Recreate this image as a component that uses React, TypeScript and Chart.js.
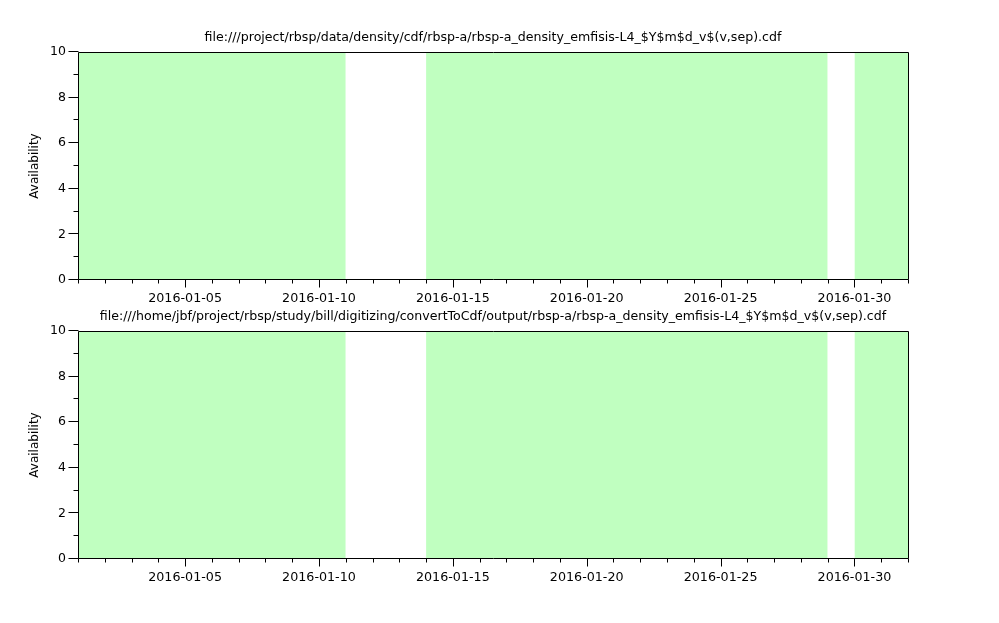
import React, { useEffect, useRef } from "react";
import { Chart, registerables } from "chart.js";
Chart.register(...registerables);

// ---- data ----
const panelTitles = [
  "file:///project/rbsp/data/density/cdf/rbsp-a/rbsp-a_density_emfisis-L4_$Y$m$d_v$(v,sep).cdf",
  "file:///home/jbf/project/rbsp/study/bill/digitizing/convertToCdf/output/rbsp-a/rbsp-a_density_emfisis-L4_$Y$m$d_v$(v,sep).cdf",
];
// days since 2016-01-01
const intervalStartDays = [0, 13, 29];
const intervalEndDays = [10, 28, 31];
const availabilityValue = 10;
const xMinDay = 0;
const xMaxDay = 31;
const majorTickDays = [4, 9, 14, 19, 24, 29];
const majorTickLabels = ["2016-01-05", "2016-01-10", "2016-01-15", "2016-01-20", "2016-01-25", "2016-01-30"];
const yMin = 0;
const yMax = 10;
const yTickLabels = ["0", "2", "4", "6", "8", "10"];
const yAxisTitle = "Availability";

const FONT = "'DejaVu Sans', sans-serif";
const GREEN = "rgb(192,255,192)";

const frameTicksPlugin = {
  id: "frameTicks",
  afterDraw(chart: any, _args: any, opts: any) {
    const { ctx, chartArea: a, scales } = chart;
    const x = scales.x;
    const y = scales.y;
    ctx.save();
    ctx.strokeStyle = "#000";
    ctx.lineWidth = 1;
    ctx.beginPath();
    const L = Math.round(a.left) + 0.5;
    const R = Math.round(a.right) + 0.5;
    const T = Math.round(a.top) + 0.5;
    const B = Math.round(a.bottom) - 0.5;
    ctx.rect(L, T, R - L, B - T);
    x.ticks.forEach((t: any) => {
      const px = Math.round(x.getPixelForValue(t.value)) + 0.5;
      const len = majorTickDays.includes(t.value) ? 8 : 4;
      ctx.moveTo(px, B);
      ctx.lineTo(px, B + len);
    });
    y.ticks.forEach((t: any) => {
      const py = Math.round(y.getPixelForValue(t.value)) - 0.5;
      const len = t.value % 2 === 0 ? 10 : 5;
      ctx.moveTo(L, py);
      ctx.lineTo(L - len, py);
    });
    ctx.stroke();
    // panel title centred over the plot area
    if (opts && opts.text) {
      ctx.fillStyle = "#000";
      ctx.font = `12.6px ${FONT}`;
      ctx.textAlign = "center";
      ctx.textBaseline = "middle";
      ctx.fillText(opts.text, (a.left + a.right) / 2, a.top - 14);
    }
    ctx.restore();
  },
};

function Panel({ title, top, height, plotTop, xHeight }: any) {
  const ref = useRef<HTMLCanvasElement>(null);
  useEffect(() => {
    const datasets = intervalStartDays.map((s, i) => ({
      data: [
        { x: s, y: availabilityValue },
        { x: intervalEndDays[i], y: availabilityValue },
      ],
      fill: "origin",
      backgroundColor: GREEN,
      borderWidth: 0,
      borderColor: "rgba(0,0,0,0)",
      pointRadius: 0,
    }));
    const chart = new Chart(ref.current!, {
      type: "line",
      data: { datasets },
      options: {
        animation: false,
        responsive: false,
        devicePixelRatio: 1,
        layout: { padding: { left: 0, right: 91, top: plotTop, bottom: 0 } },
        plugins: {
          legend: { display: false },
          tooltip: { enabled: false },
          title: { display: false },
          frameTicks: { text: title },
        },
        scales: {
          x: {
            type: "linear",
            min: xMinDay,
            max: xMaxDay,
            afterFit: (s: any) => {
              s.height = xHeight;
            },
            grid: { display: false, drawTicks: false },
            border: { display: false },
            ticks: {
              stepSize: 1,
              autoSkip: false,
              maxRotation: 0,
              padding: 11,
              color: "#000",
              font: { family: FONT, size: 12.7 },
              callback: (v: any) => {
                const i = majorTickDays.indexOf(Number(v));
                return i >= 0 ? majorTickLabels[i] : "";
              },
            },
          },
          y: {
            type: "linear",
            min: yMin,
            max: yMax,
            afterFit: (s: any) => {
              s.width = 78;
            },
            grid: { display: false, drawTicks: false },
            border: { display: false },
            title: {
              display: true,
              text: yAxisTitle,
              color: "#000",
              font: { family: FONT, size: 12 },
              padding: { top: 28, bottom: 0 },
            },
            ticks: {
              stepSize: 1,
              autoSkip: false,
              padding: 12,
              color: "#000",
              font: { family: FONT, size: 12.5 },
              callback: (v: any) => {
                const i = yTickLabels.indexOf(String(v));
                return i >= 0 ? yTickLabels[i] : "";
              },
            },
          },
        },
      },
      plugins: [frameTicksPlugin],
    } as any);
    return () => chart.destroy();
  }, []);
  return (
    <canvas
      ref={ref}
      width={999}
      height={height}
      style={{ position: "absolute", left: 0, top, width: 999, height }}
    />
  );
}

export default function App() {
  return (
    <div style={{ position: "absolute", left: 0, top: 0, width: 999, height: 623, background: "#fff" }}>
      <Panel title={panelTitles[0]} top={0} height={305} plotTop={52} xHeight={25} />
      <Panel title={panelTitles[1]} top={300} height={323} plotTop={31} xHeight={64} />
    </div>
  );
}
